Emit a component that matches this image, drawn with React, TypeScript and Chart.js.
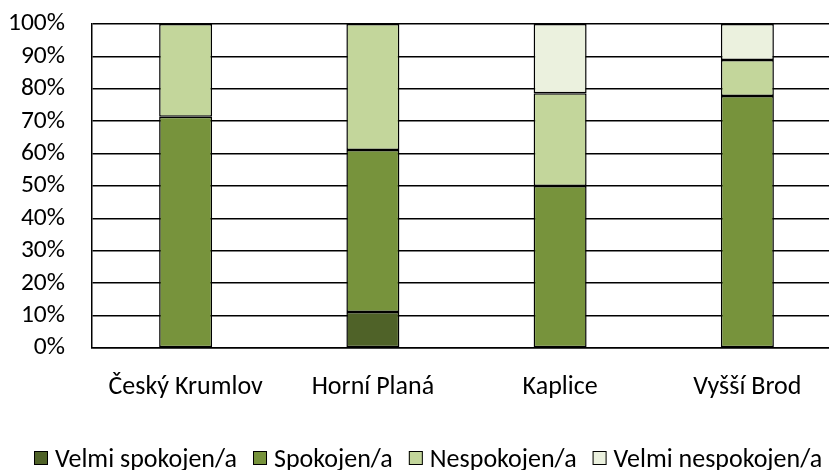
import React, { useEffect, useRef } from "react";
import { Chart, registerables } from "chart.js";

Chart.register(...registerables);

const categories = ["Český Krumlov", "Horní Planá", "Kaplice", "Vyšší Brod"];
const seriesNames = ["Velmi spokojen/a", "Spokojen/a", "Nespokojen/a", "Velmi nespokojen/a"];
const velmiSpokojen = [null, 11.1, null, null];
const spokojen = [71.4, 50.0, 50.0, 77.8];
const nespokojen = [28.6, 38.9, 28.6, 11.1];
const velmiNespokojen = [null, null, 21.4, 11.1];
const yTicks = [0, 10, 20, 30, 40, 50, 60, 70, 80, 90, 100];
const seriesColors = ["#4f6228", "#77933c", "#c3d69b", "#ebf1de"];

const FONT = "Carlito, Lato, 'Open Sans', sans-serif";

const legendPlugin = {
  id: "customLegend",
  afterDraw(chart: any) {
    const ctx = chart.ctx as CanvasRenderingContext2D;
    ctx.save();
    ctx.font = `26px ${FONT}`;
    ctx.textBaseline = "alphabetic";
    ctx.textAlign = "left";
    const box = 14;
    const gapText = 7;
    const gapItem = 16;
    const items = chart.data.datasets.map((d: any) => ({
      label: d.label,
      color: d.backgroundColor,
      w: ctx.measureText(d.label).width,
    }));
    const total =
      items.reduce((s: number, it: any) => s + box + gapText + it.w, 0) + gapItem * (items.length - 1);
    let x = Math.round(428 - total / 2);
    const baseline = 467;
    const boxTop = 451;
    for (const it of items) {
      ctx.fillStyle = it.color;
      ctx.fillRect(x, boxTop, box, box);
      ctx.strokeStyle = "#000";
      ctx.lineWidth = 1;
      ctx.strokeRect(x + 0.5, boxTop + 0.5, box - 1, box - 1);
      ctx.fillStyle = "#000";
      ctx.fillText(it.label, x + box + gapText, baseline);
      x += box + gapText + it.w + gapItem;
    }
    ctx.restore();
  },
};

export default function App() {
  const ref = useRef<HTMLCanvasElement | null>(null);
  useEffect(() => {
    if (!ref.current) return;
    const seriesData = [velmiSpokojen, spokojen, nespokojen, velmiNespokojen];
    const chart = new Chart(ref.current, {
      type: "bar",
      data: {
        labels: categories,
        datasets: seriesNames.map((name, i) => ({
          label: name,
          data: seriesData[i],
          backgroundColor: seriesColors[i],
          borderColor: "#000000",
          borderWidth: 1.5,
          borderSkipped: false as const,
          barPercentage: 0.283,
          categoryPercentage: 1,
        })),
      },
      plugins: [legendPlugin],
      options: {
        responsive: false,
        animation: false,
        devicePixelRatio: 1,
        layout: { padding: { top: 24, right: 19, left: 0, bottom: 0 } },
        plugins: {
          tooltip: { enabled: false },
          legend: { display: false },
        },
        scales: {
          x: {
            stacked: true,
            grid: { display: false, drawTicks: false },
            border: { display: true, color: "#000", width: 1.5 },
            ticks: { color: "#000", padding: 24, autoSkip: false, maxRotation: 0, font: { family: FONT, size: 26 } },
            afterFit: (axis: any) => {
              axis.height = 122;
              axis.paddingLeft = 0;
              axis.paddingRight = 0;
            },
          },
          y: {
            stacked: true,
            min: 0,
            max: 100,
            afterBuildTicks: (axis: any) => {
              axis.ticks = yTicks.map((v) => ({ value: v }));
            },
            grid: { color: "#000", lineWidth: 1.5, drawTicks: false },
            border: { display: true, color: "#000", width: 1.5 },
            ticks: {
              color: "#000",
              padding: 27,
              autoSkip: false,
              font: { family: FONT, size: 25.5 },
              callback: (v: any) => v + "%",
            },
            afterFit: (axis: any) => {
              axis.width = 92;
              axis.paddingTop = 0;
              axis.paddingBottom = 0;
            },
          },
        },
      },
    });
    return () => chart.destroy();
  }, []);
  return (
    <div style={{ position: "absolute", left: 0, top: 0, width: 829, height: 470, overflow: "hidden", background: "#fff" }}>
      <canvas ref={ref} width={860} height={470} style={{ width: 860, height: 470 }} />
    </div>
  );
}
